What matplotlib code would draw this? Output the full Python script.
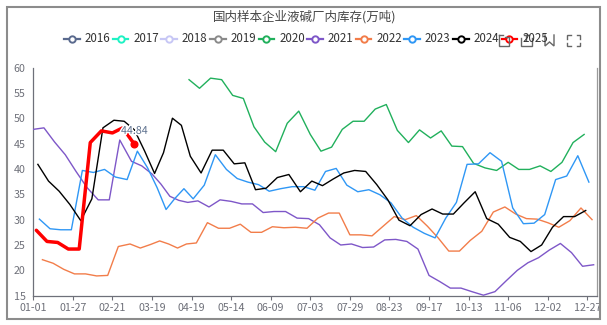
import datetime as dt
import numpy as np
import matplotlib
matplotlib.use('Agg')
import matplotlib.pyplot as plt
from matplotlib.lines import Line2D
from matplotlib.patches import Rectangle
import matplotlib.patheffects as pe

plt.rcParams['font.family'] = ['Noto Sans CJK SC', 'DejaVu Sans']

# ---------------- data ----------------
title = '国内样本企业液碱厂内库存(万吨)'
tick_labels = ['01-01', '01-27', '02-21', '03-19', '04-19', '05-14', '06-09', '07-03',
               '07-29', '08-23', '09-17', '10-13', '11-06', '12-02', '12-27']
y_ticks = [15, 20, 25, 30, 35, 40, 45, 50, 55, 60]

legend_years = ['2016', '2017', '2018', '2019', '2020', '2021', '2022', '2023', '2024', '2025']
legend_colors = ['#5a6a8e', '#1ff2c4', '#c7c7f5', '#8a8a8a', '#21b05c', '#7e57c8',
                 '#f27d4a', '#2f97f5', '#000000', '#ff0000']

start_2020 = '2020-04-17'
values_2020 = [57.6, 55.9, 57.9, 57.6, 54.5, 53.9, 48.3, 45.3, 43.4, 49.0,
               51.4, 46.8, 43.5, 44.3, 47.8, 49.4, 49.4, 51.8, 52.7, 47.6,
               45.2, 47.7, 46.1, 47.5, 44.5, 44.4, 41.1, 40.2, 39.7, 41.3,
               39.9, 39.9, 40.6, 39.5, 41.3, 45.2, 46.8]

start_2021 = '2021-01-01'
values_2021 = [47.8, 48.1, 45.3, 42.8, 39.5, 36.3, 33.9, 33.9, 45.7, 41.5,
               40.6, 39.0, 37.0, 34.6, 33.8, 33.4, 33.7, 32.5, 33.9, 33.6,
               33.1, 33.1, 31.4, 31.6, 31.6, 30.3, 30.2, 29.0, 26.4, 25.0,
               25.2, 24.5, 24.6, 26.0, 26.1, 25.7, 24.2, 19.0, 17.8, 16.5,
               16.5, 15.8, 15.1, 15.8, 18.0, 20.0, 21.5, 22.5, 24.0, 25.3,
               23.5, 20.8, 21.1]

start_2022 = '2022-01-07'
values_2022 = [22.1, 21.4, 20.2, 19.3, 19.3, 18.9, 19.0, 24.7, 25.2, 24.4,
               25.1, 25.8, 25.2, 24.4, 25.2, 25.4, 29.4, 28.3, 28.3, 29.1,
               27.5, 27.5, 28.6, 28.4, 28.5, 28.3, 30.3, 31.3, 31.3, 27.0,
               27.0, 26.8, 28.7, 30.6, 30.0, 30.8, 28.7, 26.4, 23.8, 23.8,
               25.9, 27.7, 31.5, 32.5, 31.1, 30.2, 30.1, 29.4, 28.5, 29.8,
               32.3, 30.0]

start_2023 = '2023-01-05'
values_2023 = [30.1, 28.2, 28.0, 28.0, 39.7, 39.3, 39.9, 38.4, 37.9, 43.5,
               40.2, 36.3, 32.0, 34.2, 36.1, 34.1, 36.8, 42.8, 39.9, 38.1,
               37.4, 36.9, 35.6, 36.1, 36.5, 36.5, 35.8, 39.5, 40.1, 36.8,
               35.5, 35.9, 34.9, 33.3, 30.3, 28.5, 27.3, 26.4, 30.3, 33.4,
               40.9, 41.0, 43.2, 41.5, 32.3, 29.2, 29.3, 31.0, 37.9, 38.6,
               42.6, 37.4]

start_2024 = '2024-01-04'
values_2024 = [40.9, 37.6, 35.6, 33.0, 29.8, 34.1, 48.1, 49.6, 49.4, 47.7,
               43.5, 39.1, 43.2, 50.0, 48.6, 42.5, 39.2, 43.7, 43.7, 41.0,
               41.2, 35.9, 36.2, 38.3, 38.9, 35.5, 37.6, 36.7, 38.0, 39.2,
               39.7, 39.5, 36.9, 33.9, 29.9, 28.8, 31.0, 32.1, 31.1, 31.1,
               33.3, 35.5, 30.2, 29.1, 26.5, 25.7, 23.7, 25.0, 28.5, 30.6,
               30.6, 31.8]

start_2025 = '2025-01-03'
values_2025 = [27.9, 25.7, 25.5, 24.2, 24.2, 45.2, 47.5, 47.1, 48.1, 44.84]

series = [
    ('2020', start_2020, values_2020),
    ('2021', start_2021, values_2021),
    ('2022', start_2022, values_2022),
    ('2023', start_2023, values_2023),
    ('2024', start_2024, values_2024),
    ('2025', start_2025, values_2025),
]

# ---------------- helpers ----------------
def md_doy(m, d):
    return dt.date(2024, m, d).timetuple().tm_yday

tick_doy = [md_doy(int(s[:2]), int(s[3:])) for s in tick_labels]
anchor_doy = tick_doy + [tick_doy[-1] + 25]
anchor_pos = list(range(len(tick_labels))) + [len(tick_labels)]


def positions(start, n):
    d0 = dt.date.fromisoformat(start)
    days = [d0 + dt.timedelta(days=7 * i) for i in range(n)]
    doy = [md_doy(d.month, d.day) for d in days]
    return np.interp(doy, anchor_doy, anchor_pos)


W, H = 607, 325
fig = plt.figure(figsize=(W / 100, H / 100), dpi=100)


def fx(px):
    return px / W


def fy(py):
    return 1 - py / H


ax_l, ax_r, ax_t, ax_b = 33.3, 596.7, 67.5, 295.7
ax = fig.add_axes([fx(ax_l), fy(ax_b), (ax_r - ax_l) / W, (ax_b - ax_t) / H])

color_of = dict(zip(legend_years, legend_colors))
for year, start, vals in series:
    xs = positions(start, len(vals))
    if year == '2025':
        ax.plot(xs, vals, color=color_of[year], lw=2.5, zorder=5,
                solid_joinstyle='round', solid_capstyle='round')
        ax.plot(xs[-1], vals[-1], 'o', color=color_of[year], ms=4.8, zorder=6)
        ax.annotate(f'{vals[-1]:.2f}', (xs[-1], vals[-1]), xytext=(0, 9.7),
                    textcoords='offset points', ha='center', va='center',
                    fontsize=7.7, color='#5a6e8c', zorder=7,
                    path_effects=[pe.withStroke(linewidth=2.2, foreground='white')])
    else:
        ax.plot(xs, vals, color=color_of[year], lw=1.0, zorder=3)

axis_color = '#6E7079'
ax.set_xlim(0, (ax_r - ax_l) / ((587.3 - 33.3) / 14))
ax.set_ylim(15, 60)
ax.set_xticks(range(len(tick_labels)))
ax.set_xticklabels(tick_labels)
ax.set_yticks(y_ticks)
ax.tick_params(axis='x', length=3, width=0.8, color=axis_color, labelcolor=axis_color,
               labelsize=7.7, pad=2.5, direction='out')
ax.tick_params(axis='y', length=0, labelcolor=axis_color, labelsize=7.7, pad=5.5)
ax.spines['top'].set_visible(False)
for s in ('left', 'bottom', 'right'):
    ax.spines[s].set_color(axis_color)
    ax.spines[s].set_linewidth(0.9)
ax.spines['right'].set_color('#9a9a9a')
ax.set_facecolor('white')

# title
fig.text(fx(305), fy(16.5), title, ha='center', va='center', fontsize=9,
         color='#464646', fontweight='medium')

# legend (manual)
leg_y = 39
for i, (yr, col) in enumerate(zip(legend_years, legend_colors)):
    x0 = 64.2 + 48.6 * i
    fig.add_artist(Line2D([fx(x0), fx(x0 + 15.6)], [fy(leg_y), fy(leg_y)],
                          color=col, lw=1.6, transform=fig.transFigure))
    fig.add_artist(Line2D([fx(x0 + 7.8)], [fy(leg_y)], marker='o', ms=4.6,
                          mfc='white', mec=col, mew=1.4, transform=fig.transFigure))
    fig.text(fx(x0 + 20.6), fy(leg_y), yr, ha='left', va='center', fontsize=8.3,
             color='#333333')

# toolbox icons (approximate)
ic = '#666666'


def pline(xs, ys, lw=1.0):
    fig.add_artist(Line2D([fx(v) for v in xs], [fy(v) for v in ys], color=ic, lw=lw,
                          transform=fig.transFigure, solid_joinstyle='miter'))


iy0, iy1 = 35, 46
# data view
pline([499, 499, 509, 509, 505], [iy0, iy1, iy1, iy0 + 2, iy0 + 2])
pline([499, 503], [iy0, iy0])
# restore
pline([521, 521, 532, 532], [iy0 + 3, iy1, iy1, iy0 + 3])
pline([524, 529], [iy0, iy0])
pline([526, 526], [iy0, iy0 + 5])
# save image
pline([545, 545, 549.5, 554, 554], [iy0, iy1, iy1 - 4, iy1, iy0])
# fullscreen corners
for (cx, cy, dx, dy) in [(567, iy0, 1, 1), (580, iy0, -1, 1), (567, iy1, 1, -1), (580, iy1, -1, -1)]:
    pline([cx, cx, cx + 3.5 * dx], [cy + 3.5 * dy, cy, cy])

# outer frame
fig.add_artist(Rectangle((fx(6.5), fy(318.5)), (600 - 6.5) / W, (318.5 - 6.5) / H,
                         fill=False, ec='#8c8c8c', lw=1.5, transform=fig.transFigure))

fig.savefig('out.png', dpi=100)
